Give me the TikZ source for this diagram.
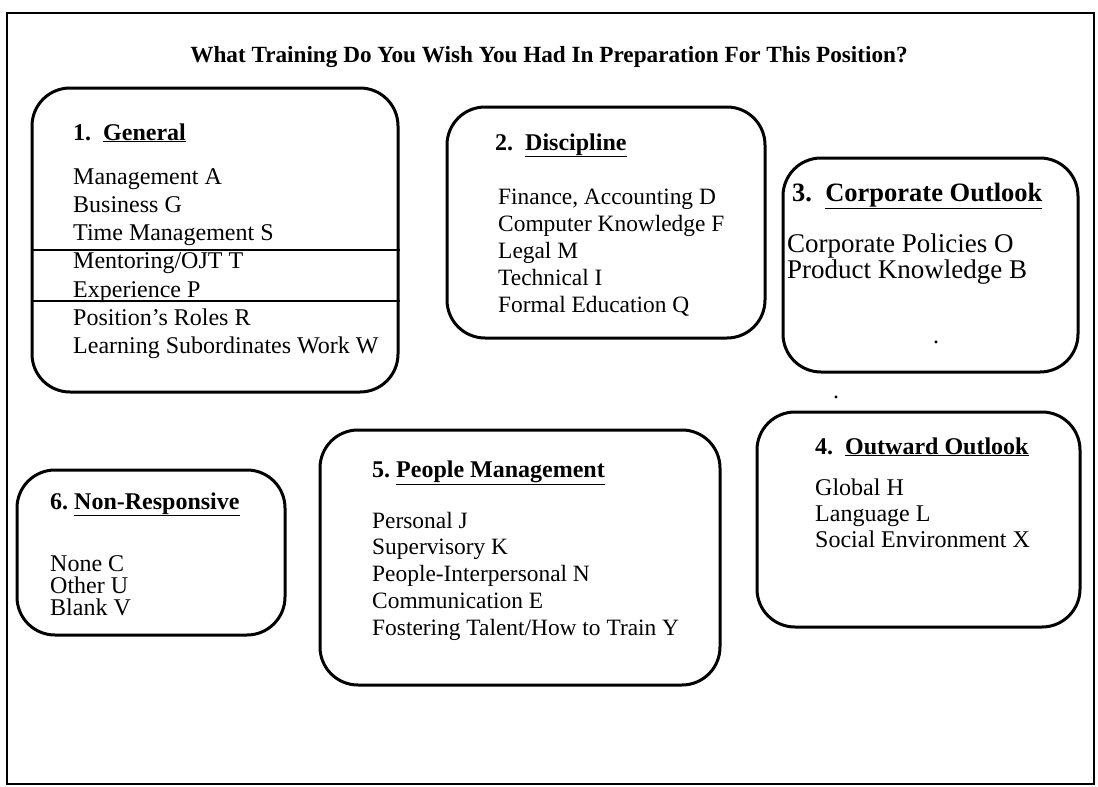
\documentclass[tikz,border=0pt]{standalone}
\usepackage{fontspec}
\setmainfont{Liberation Serif}
\usepackage{tikz}
\usetikzlibrary{positioning}

\begin{document}
\begin{tikzpicture}[x=1pt, y=-1pt,
		feld/.style={draw, line width=3pt, rounded corners=38pt},
		kopf/.style={anchor=base west, inner sep=0pt, font=\fontsize{#1}{28}\selectfont\bfseries},
		kopf/.default=24,
		punkt/.style={anchor=base west, inner sep=0pt, font=\fontsize{#1}{28}\selectfont},
		punkt/.default=24,
		titel/.style={anchor=base, inner sep=0pt, font=\fontsize{23.2}{26}\selectfont\bfseries}]
		%Bildbereich und Rahmen
		\useasboundingbox (0,0) rectangle (1098,787);
		\draw[line width=2pt] (7,13) rectangle (1094,784);
		% Ueberschrift
		\node[titel] (frage) at (549,62) {What Training Do You Wish You Had In Preparation For This Position?};
		% Kaesten
		\node[feld, minimum width=366, minimum height=304] (gen) at (215,240) {};
		\node[feld, minimum width=318, minimum height=231] (disc) at (606,222.5) {};
		\node[feld, minimum width=295, minimum height=214] (corp) at (930.5,265) {};
		\node[feld, minimum width=323, minimum height=215] (outw) at (918.5,519.5) {};
		\node[feld, minimum width=400, minimum height=255] (peop) at (520,557.5) {};
		\node[feld, minimum width=268, minimum height=165] (nonr) at (151,552.5) {};
		% Trennlinien im ersten Kasten
		\draw[line width=1.6pt] (gen.west |- 0,250) -- (gen.east |- 0,250);
		\draw[line width=1.6pt] (gen.west |- 0,301) -- (gen.east |- 0,301);
		% 1. General
		\node[kopf] (gen-kopf) at (73,140) {1.~~\underline{General}};
		\foreach \t [count=\i] in {Management A, Business G, Time Management S, Mentoring/OJT T, Experience P, Position's Roles R, Learning Subordinates Work W}
			\node[punkt] (gen-\i) at (73,{184+28.3*(\i-1)}) {\t};
		% 2. Discipline
		\node[kopf] (disc-kopf) at (495,150) {2.~~\underline{Discipline}};
		\foreach \t [count=\i] in {{Finance, Accounting D}, Computer Knowledge F, Legal M, Technical I, Formal Education Q}
			\node[punkt=23.4] (disc-\i) at (498,{204+27*(\i-1)}) {\t};
		% 3. Corporate Outlook
		\node[kopf=26.5] (corp-kopf) at (792,201) {3.~~\underline{Corporate Outlook}};
		\foreach \t [count=\i] in {Corporate Policies O, Product Knowledge B}
			\node[punkt=27] (corp-\i) at (787,{252+26*(\i-1)}) {\t};
		\node[punkt] (dot-a) at (933,343) {.};
		\node[punkt] (dot-b) at (833,398) {.};
		% 4. Outward Outlook
		\node[kopf] (outw-kopf) at (815,454) {4.~~\underline{Outward Outlook}};
		\foreach \t [count=\i] in {Global H, Language L, Social Environment X}
			\node[punkt] (outw-\i) at (815,{495+26*(\i-1)}) {\t};
		% 5. People Management
		\node[kopf] (peop-kopf) at (372,477) {5.~\underline{People Management}};
		\foreach \t [count=\i] in {Personal J, Supervisory K, People-Interpersonal N, Communication E, Fostering Talent/How to Train Y}
			\node[punkt=23.4] (peop-\i) at (372,{528+26.8*(\i-1)}) {\t};
		% 6. Non-Responsive
		\node[kopf] (nonr-kopf) at (50,509) {6.~\underline{Non-Responsive}};
		\foreach \t [count=\i] in {None C, Other U, Blank V}
			\node[punkt] (nonr-\i) at (50,{571+22*(\i-1)}) {\t};
	\end{tikzpicture}
\end{document}
